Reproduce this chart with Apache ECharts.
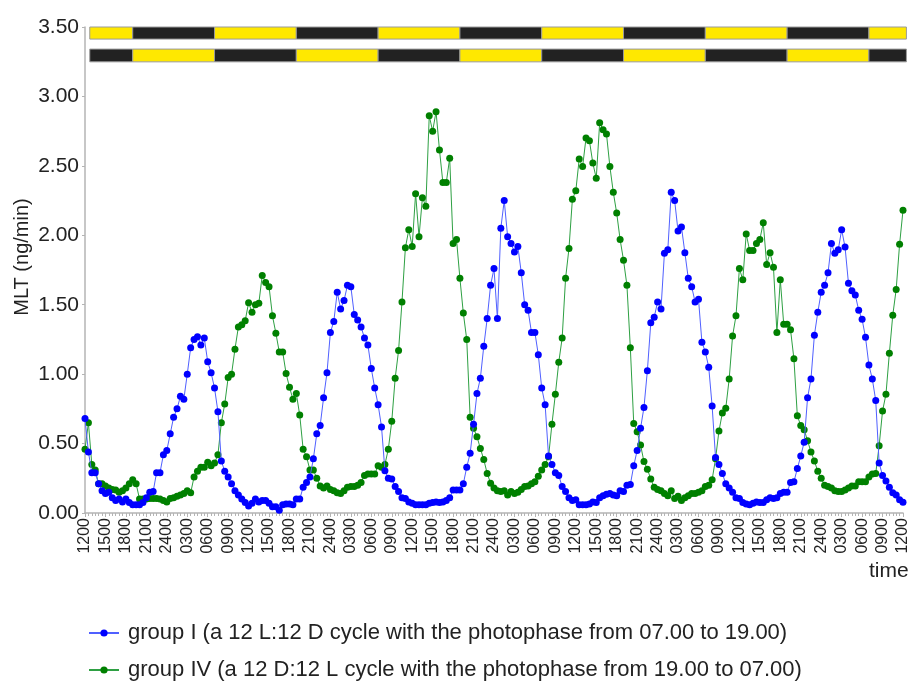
<!DOCTYPE html>
<html><head><meta charset="utf-8">
<script src="https://cdn.jsdelivr.net/npm/echarts@6/dist/echarts.min.js"></script>
<style>html,body{margin:0;padding:0;background:#fff}#c{width:915px;height:684px}</style>
</head><body><div id="c"></div>
<script>
// x tick labels, every 3 h starting at 12:00 (5 days)
const tickLabels = ["1200","1500","1800","2100","2400","0300","0600","0900",
  "1200","1500","1800","2100","2400","0300","0600","0900",
  "1200","1500","1800","2100","2400","0300","0600","0900",
  "1200","1500","1800","2100","2400","0300","0600","0900",
  "1200","1500","1800","2100","2400","0300","0600","0900","1200"];
const stepHours = 0.5; // samples every 30 min

// group I (12L:12D, light 07-19)
const groupI = [
 0.68,0.44,0.29,0.29,0.21,0.16,0.14,0.15,0.11,0.09,
 0.10,0.08,0.10,0.075,0.06,0.06,0.06,0.075,0.11,0.15,
 0.155,0.29,0.29,0.42,0.45,0.57,0.69,0.75,0.84,0.82,
 1.00,1.19,1.25,1.27,1.21,1.26,1.09,1.01,0.90,0.73,
 0.375,0.30,0.26,0.21,0.16,0.13,0.10,0.075,0.05,0.07,
 0.10,0.08,0.09,0.09,0.07,0.045,0.045,0.02,0.06,0.065,
 0.065,0.06,0.10,0.10,0.185,0.22,0.26,0.39,0.57,0.63,
 0.83,1.01,1.30,1.38,1.59,1.47,1.53,1.64,1.63,1.43,
 1.39,
 1.34,1.26,1.21,1.04,0.90,0.78,0.62,0.305,0.25,0.245,
 0.19,0.155,0.11,0.105,0.08,0.07,0.06,0.06,0.06,0.06,
 0.07,0.075,0.08,0.075,0.08,0.09,0.11,0.165,0.165,0.165,
 0.21,0.33,0.43,0.64,0.86,0.97,1.20,1.40,1.64,1.76,
 1.40,2.05,2.25,1.99,1.94,1.88,1.92,1.73,1.50,1.46,
 1.30,1.30,1.14,0.90,0.78,0.41,0.35,0.29,0.27,0.19,
 0.155,0.11,0.09,0.095,0.06,0.06,0.06,0.065,0.08,0.075,
 0.11,0.125,0.135,0.14,0.13,0.125,0.16,0.155,0.20,0.205,
 0.34,0.45,0.61,0.76,1.025,1.37,1.41,1.52,1.47,1.87,
 1.895,2.31,2.25,2.03,2.06,1.875,1.69,1.63,1.52,1.54,
 1.23,1.16,1.05,0.77,0.40,0.35,0.285,0.21,0.18,0.15,
 0.11,0.105,0.075,0.065,0.06,0.07,0.08,0.075,0.075,0.095,
 0.11,0.105,0.11,0.14,0.15,0.15,0.22,0.225,0.32,0.41,
 0.51,0.83,0.965,1.28,1.445,1.59,1.64,1.73,1.94,1.87,
 1.895,2.04,1.915,1.655,1.60,1.57,1.46,1.395,1.265,1.065,
 0.965,0.81,0.36,0.27,0.23,0.185,0.145,0.13,0.095,0.077
];

// group IV (12D:12L, light 19-07)
const groupIV = [
 0.46,0.65,0.35,0.31,0.21,0.21,0.195,0.18,0.17,0.165,
 0.15,0.16,0.18,0.21,0.24,0.21,0.10,0.10,0.10,0.105,
 0.105,0.105,0.10,0.09,0.08,0.105,0.11,0.12,0.13,0.14,
 0.16,0.145,0.26,0.30,0.33,0.33,0.365,0.34,0.36,0.42,
 0.65,0.785,0.975,1.00,1.18,1.34,1.355,1.385,1.515,1.445,
 1.50,1.51,1.71,1.66,1.63,1.42,1.295,1.16,1.16,1.005,
 0.905,0.82,0.86,0.705,0.46,0.405,0.31,0.31,0.25,0.195,
 0.18,0.195,0.17,0.16,0.145,0.14,0.16,0.185,0.19,0.19,
 0.20,
 0.22,0.27,0.28,0.28,0.28,0.34,0.33,0.35,0.46,0.66,
 0.97,1.17,1.52,1.91,2.04,1.92,2.30,1.99,2.27,2.21,
 2.86,2.75,2.89,2.615,2.38,2.38,2.555,1.94,1.97,1.69,
 1.44,1.25,0.69,0.61,0.55,0.465,0.385,0.285,0.215,0.18,
 0.16,0.155,0.16,0.13,0.155,0.14,0.15,0.17,0.19,0.195,
 0.21,0.225,0.265,0.31,0.35,0.405,0.64,0.855,1.085,1.26,
 1.69,1.905,2.26,2.32,2.55,2.495,2.70,2.68,2.52,2.41,
 2.81,2.76,2.73,2.495,2.31,2.16,1.97,1.82,1.64,
 1.19,0.645,0.585,0.49,0.37,0.315,0.245,0.185,0.17,0.16,
 0.14,0.125,0.16,0.105,0.12,0.09,0.11,0.125,0.14,0.14,
 0.15,0.16,0.19,0.20,0.24,0.39,0.59,0.72,0.755,0.965,
 1.275,1.42,1.76,1.68,2.01,1.89,1.89,1.94,1.97,2.09,
 1.79,1.875,1.77,1.30,1.68,1.36,1.36,1.32,1.11,0.70,
 0.63,0.60,0.52,0.44,0.375,0.30,0.25,0.20,0.19,0.18,
 0.16,0.155,0.155,0.165,0.18,0.195,0.195,0.225,0.225,0.225,
 0.26,0.28,0.285,0.485,0.735,0.855,1.15,1.425,1.61,1.935,
 2.18
];

// light/dark switch times (hours from start) for the two schedule bars
const phaseEdges = [0.7, 7, 19, 31, 43, 55, 67, 79, 91, 103, 115, 120.5];

const seriesNames = ["group I (a 12 L:12 D cycle with the photophase from 07.00 to 19.00)",
                     "group IV (a 12 D:12 L cycle with the photophase from 19.00 to 07.00)"];

function toPairs(arr){ return arr.map((v,i)=>[i*stepHours, v]); }

const barData = [];
for (let k = 0; k < phaseEdges.length-1; k++) {
  const lightTop = (k % 2 === 0) ? 1 : 0;
  barData.push([phaseEdges[k], phaseEdges[k+1], 0, lightTop]);
  barData.push([phaseEdges[k], phaseEdges[k+1], 1, 1-lightTop]);
}

const FONT = "'Liberation Sans', Arial, sans-serif";
const legendBase = {orient:'horizontal', left:83, itemWidth:30, itemHeight:9,
  textStyle:{fontSize:22, color:'#222', fontFamily:FONT, padding:[0,0,0,4]}};
const chart = echarts.init(document.getElementById('c'), null, {renderer:'canvas'});
chart.setOption({
  animation:false,
  backgroundColor:'#fff',
  grid:{left:85, right:12, top:27, bottom:171, containLabel:false},
  xAxis:{
    type:'value', min:0, max:120, interval:3,
    axisLine:{lineStyle:{color:'#b4b4b4', width:1.5}},
    axisTick:{show:true, length:4, lineStyle:{color:'#b4b4b4'}},
    minorTick:{show:true, splitNumber:6, length:3, lineStyle:{color:'#b4b4b4'}},
    splitLine:{show:false},
    axisLabel:{rotate:90, margin:5, fontSize:16, color:'#222', fontFamily:FONT,
      formatter:(v)=>tickLabels[Math.round(v/3)] || ''}
  },
  yAxis:{
    type:'value', min:0, max:3.5, interval:0.5, offset:2,
    axisLine:{show:true, lineStyle:{color:'#b4b4b4', width:1.5}},
    axisTick:{show:true, length:3, lineStyle:{color:'#b4b4b4'}},
    splitLine:{show:false},
    axisLabel:{fontSize:21, color:'#222', margin:4, fontFamily:FONT,
      formatter:(v)=>v.toFixed(2)}
  },
  legend:[
    Object.assign({}, legendBase, {top:617, data:[seriesNames[0]]}),
    Object.assign({}, legendBase, {top:654, data:[seriesNames[1]]})
  ],
  graphic:[
    {type:'text', left:869, top:561, style:{text:'time', font:"21px "+FONT, fill:'#222'}},
    {type:'text', x:22, y:257, rotation:Math.PI/2,
     style:{text:'MLT (ng/min)', font:"20px "+FONT, fill:'#222', align:'center', verticalAlign:'middle'}}
  ],
  series:[
    {type:'custom', name:'schedule', silent:true, clip:false, z:1,
     encode:{x:[0,1], y:[]},
     data:barData,
     renderItem:(params, api)=>{
       const x0 = api.value(0), x1 = api.value(1), row = api.value(2), light = api.value(3);
       const yT = row === 0 ? 3.5 : 3.341, yB = row === 0 ? 3.413 : 3.249;
       const p0 = api.coord([x0, yT]), p1 = api.coord([x1, yB]);
       return {type:'rect', shape:{x:p0[0], y:p0[1], width:p1[0]-p0[0], height:p1[1]-p0[1]},
               style:{fill: light ? '#ffe800' : '#222222', stroke:'#9a9a9a', lineWidth:1}};
     }},
    {type:'line', name:seriesNames[0], data:toPairs(groupI), symbol:'circle', symbolSize:7,
     itemStyle:{color:'#0000ff'}, lineStyle:{color:'#5060ff', width:1}, z:3},
    {type:'line', name:seriesNames[1], data:toPairs(groupIV), symbol:'circle', symbolSize:7,
     itemStyle:{color:'#008000'}, lineStyle:{color:'#2ea043', width:1}, z:2}
  ]
});
</script></body></html>
